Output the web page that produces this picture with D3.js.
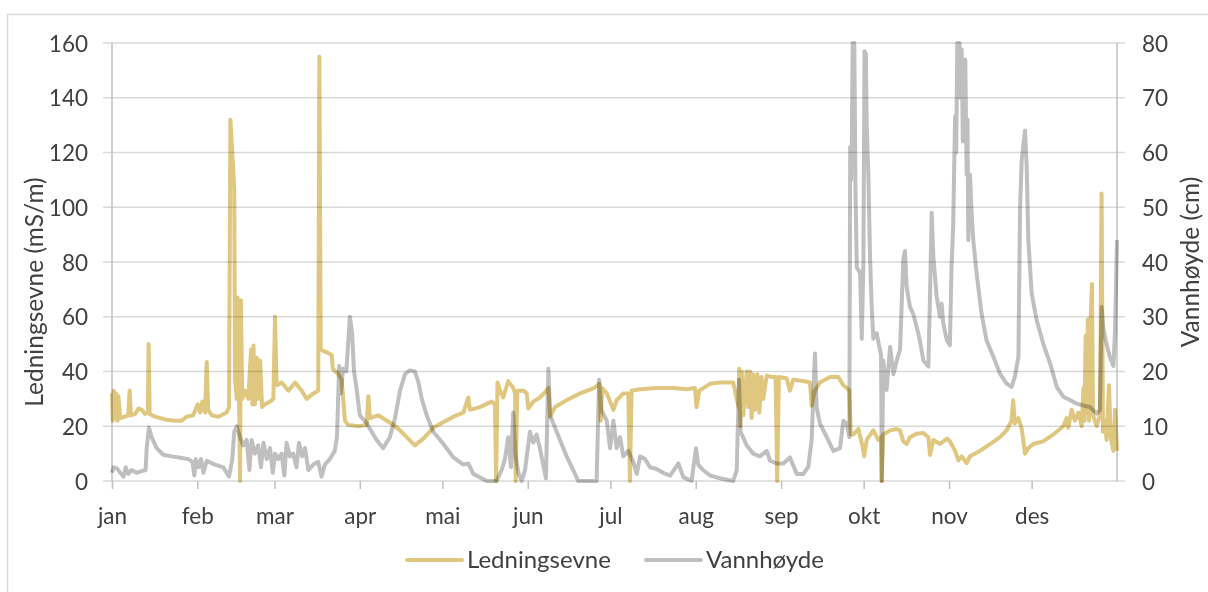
<!DOCTYPE html>
<html>
<head>
<meta charset="utf-8">
<script src="https://cdn.jsdelivr.net/npm/d3@7"></script>
<style>
  html, body { margin: 0; padding: 0; background: #fff; }
  svg { display: block; }
  text { font-family: Lato, "Open Sans", sans-serif; fill: #404040; }
</style>
</head>
<body>
<svg id="chart" width="1208" height="592"></svg>
<script>
// ---------- data ----------
const monthLabels = ["jan","feb","mar","apr","mai","jun","jul","aug","sep","okt","nov","des"];
const monthStartDays = [0,31,59,90,120,151,181,212,243,273,304,334];
const leftTicks = [0,20,40,60,80,100,120,140,160];
const rightTicks = [0,10,20,30,40,50,60,70,80];
const seriesNames = ["Ledningsevne","Vannhøyde"];

// Ledningsevne (mS/m): day of year, value
const condDays = [0,0.3,0.6,1,1.5,2,2.3,3,4.7,5.9,6.4,6.9,8.4,9.6,10.8,12,13,13.3,13.7,15.6,19.2,22.9,25.3,27.1,29.5,31.1,32,32.8,33.8,34.4,34.9,36.2,38.6,41.6,42.5,43,44.4,44.7,45.3,45.6,46.1,46.5,46.8,47.3,48.3,49.5,50.5,51,51.4,51.9,52.6,53.1,53.8,54.5,55.6,57.4,58.6,59.2,59.8,61.6,64.1,66.5,68.9,70.7,73.1,74.9,75.3,75.8,78,79.8,80.2,82.2,83.4,84.6,85.8,89.5,92.5,93.1,93.7,96.7,99.8,102.2,104.6,107,110,113.1,116.7,120.3,124,127.6,129.4,130,133.6,137.9,139.1,139.5,140,140.9,142.1,143.9,145.7,146.4,146.6,147.2,149.4,150.6,151.2,153,155.4,157.3,158.5,159.1,160.9,165.1,170,174.8,177,177.5,178,179.7,182.1,183.3,185.7,187.5,188.1,188.7,191.8,197.8,203.9,208.7,211.7,212.3,213.3,217.2,220.8,225.6,226.9,227.6,227.8,228.2,228.7,229.3,230.5,231.1,231.7,232.3,232.9,233.5,234.4,235.1,235.9,236.5,237.8,239.6,241,241.6,242.2,245,246.2,247.4,251.1,253.5,254.1,255.3,257.1,260.8,263.8,265.6,266.8,267.8,268.3,269.3,271.1,272.3,273.2,274.1,276.5,278.3,279.3,279.5,280.1,282.6,285,286.2,287.4,288.6,289.8,292.2,294.7,296.5,297.1,298.3,300.7,303.2,304.3,306.2,307.4,308.6,310.4,311.6,315.2,318.9,322.5,324.9,326.7,327.3,327.9,329.2,330.4,331.6,332.8,334.6,338.2,341.9,345.5,346.7,347.3,348.5,349.7,351,352.2,352.8,353.2,353.6,354,354.4,354.8,355.4,355.9,356.3,357.6,358.8,359.4,359.9,360.6,361.2,362.1,362.7,363.7,364.3,365];
const condVals = [32,22,33,23,32,22,31,23,23.5,24,33,24,24.5,26.5,26,24.5,25,50,24.5,23.5,22.5,22,22,23.5,24,28,25,29,25,43.5,26,24,23.5,25,27,132,107,37,30,67,33,0,66,30,33,30,48,28,49.5,28,45,30,44,27,28,29,30,60,35,36,33,36,33,30,32,33,155,48,47,46,41,39,37,22,20.5,20,20.5,31,23,24,22,20.5,18.5,16,13,15.5,19.5,21.5,23.5,25,30.5,26,27,29,28,0,36,33,30.5,36.5,34,32,0,33,33,32,26.5,29,30.5,32.5,34,23.5,27,29.5,32,33.8,35.5,22,34,32,26,29.5,32,32,0,33,33.5,34,34,33.5,34,27,33,35.5,36,36,30,27,41,20,40,24,40,27,40,23,39,26,39,25,38,30,38.5,38,38,0,38,37.5,33,37,36.5,36,27.5,33,36,38,38,35,34,33,17,17,19,14,9,15,18.5,15,16,0,17,18.5,19,18.5,14.5,13.5,16,17.3,17.5,16,9.5,15,13.5,15.5,14.5,11,7.5,9,6.5,9,11,13.5,16,18.5,22,29.5,21,23,19,10,12,13.5,14.5,17,20,23,19.5,26,22,25,20,34,22,53,25,59,22,58,72,24,20,24,105,18,22,15,35,16,11,26,11];

// Vannhøyde (cm): day of year, value
const levelDays = [0,0.6,1.8,3,4.2,5,5.9,7.1,8.9,10.7,12.2,12.6,13.4,14.4,16.2,18.6,21.7,25.3,27.7,29.2,29.9,30.4,31.4,32.3,33.2,34.4,37.4,40.4,42.5,43.7,44.4,45.3,46.5,47.7,48.9,49.9,50.7,51.9,53.1,54.1,55,56.2,57.4,58.4,59.2,60.4,61.6,62.6,63.4,64.6,65.8,67,67.9,69.1,70.1,71.3,73.1,74.9,76.1,77.3,79.1,80.9,81.7,82.5,83.1,83.9,85.1,86.4,87.2,87.9,88.8,90,92.5,96.1,98.5,100.9,102.8,104.6,106.4,108.2,110,111.3,112.5,114.3,116.7,120.3,124,127.6,129.4,131.2,136.1,139.7,141.5,142.7,143.9,144.9,145.7,146.6,147.6,148.8,150,151.8,153,154.2,155.4,156.6,157.6,158.5,159.1,160.3,162.7,165.1,167.5,169.3,176,176.9,177.7,179.7,180.9,182.1,183.3,184.5,185.7,187.5,189.3,190.6,191.8,193.6,195.4,197.8,200.2,202.7,205.7,207.5,210.5,212.1,212.9,214.7,217.2,220.8,225.6,226.9,227.7,228.3,230.5,232.9,235.3,237.8,239,241.4,243.8,246.2,248.7,251.1,252.9,254.1,255.3,255.9,257.1,259.6,262,264.4,265.6,266.8,267.8,268.1,268.4,268.7,269,269.3,269.6,270,270.5,271.7,272.3,272.9,273.3,273.8,274.1,274.7,275.3,275.9,276.5,277.7,279.3,279.6,280.1,281.3,282.6,283.8,285,286.2,287.4,288,288.6,289.8,291,292.2,293.4,294.7,296.5,297.1,297.7,298.3,299.5,300.7,301.3,301.9,303.2,304.3,304.9,305.5,306.2,306.6,307,307.4,307.8,308.2,308.6,309,309.4,309.9,310.4,310.7,311,311.6,312.2,312.8,314,315.8,317.6,320.1,322.5,324.9,326.7,327.9,329.2,329.8,330.4,331.6,332.2,332.8,334,335.8,338.2,340.7,343.1,345.5,347.9,350.4,352.8,355.2,357.6,358.8,359.4,360,361.2,362.4,363.7,364.3,365];
const levelVals = [1.5,2.5,2.3,1.5,0.8,2.5,1.3,2,1.5,1.8,2,6,9.8,8,6,4.8,4.5,4.2,4,3.5,1,4,2.5,4,1.5,3.7,3,2.5,0.8,4,9,10,8,6.5,7.5,2,7.5,5,6.5,2.5,7,4,6,1.5,5,4,5,1,7,4.5,5,2.5,7,4.5,6,2,3,3.5,0.8,3,4,5.5,8,21,16,20.5,20,30,27,20,17,12,10.5,7.5,6,8,11.5,16.5,19.5,20.2,20,18,15,12,9,6.8,4.3,3,3.2,1.3,0,0,2,4,8,2.5,12.5,4.5,1.5,0,2,9,7,8.5,6,3,0.5,20.5,12,10.5,7.5,4.5,2,0,0,18.5,13,11,6,11,6,8,4.5,5.5,3.5,1.3,4.5,4,2.5,2.2,1.5,1,3.2,0.7,0,6,3,2,1,0.5,0,2,18.5,9,6.5,5,4.5,5.5,3.7,3.2,3.2,4.3,1.3,1.3,2.6,7.5,23.3,13.5,10.5,8,5.5,6,11,10.5,8,61,55,62,80,66,80,54,39,38,26,40,78.5,78,65,56,41,32,26,27,23,0,22,16.6,24.5,19.5,22,24,40.5,42,35.5,31.8,30.5,28.2,25.7,22,20.9,34,49,41,33.7,30,32.4,28.8,25.7,24.8,39,46.5,66.6,60,80,70,80,72,78.8,62,68,77,56,66,44,56,49,44,38,30.6,25.7,22.7,19.6,17.8,17.2,19,22.7,50,58.7,64,57.4,44,34.3,29.4,25.1,21.5,17.2,15.4,14.8,14.1,13.8,13.5,12.3,13,31.8,28,25,22.7,21,27.6,44];

// ---------- chart ----------
const svg = d3.select("#chart");
const W = 1208, H = 592;
const plot = {left: 112, right: 1117, top: 43, bottom: 481};
const COL_COND = "#DFC77F", COL_LEVEL = "#BFBFBF", GRID = "#D9D9D9", AXIS = "#BFBFBF";
const LINE_W = 4;

svg.append("rect").attr("width", W).attr("height", H).attr("fill", "#fff");
svg.append("rect").attr("x", 7.5).attr("y", 14.5).attr("width", W + 20).attr("height", H + 20)
  .attr("fill", "none").attr("stroke", GRID).attr("stroke-width", 1.5);

const x = d3.scaleLinear().domain([0, 365]).range([plot.left, plot.right]);
const yL = d3.scaleLinear().domain([0, 160]).range([plot.bottom, plot.top]);
const yR = d3.scaleLinear().domain([0, 80]).range([plot.bottom, plot.top]);

// gridlines
svg.append("g").selectAll("line").data(leftTicks).join("line")
  .attr("x1", plot.left - 9).attr("x2", plot.right + 8)
  .attr("y1", d => yL(d)).attr("y2", d => yL(d))
  .attr("stroke", GRID).attr("stroke-width", 1.5);

// vertical axis lines
[plot.left, plot.right].forEach(px => {
  svg.append("line").attr("x1", px).attr("x2", px).attr("y1", plot.top).attr("y2", plot.bottom)
    .attr("stroke", AXIS).attr("stroke-width", 1.5);
});

// axes
const gL = svg.append("g").attr("transform", `translate(${plot.left},0)`)
  .call(d3.axisLeft(yL).tickValues(leftTicks).tickSize(0).tickPadding(24));
const gR = svg.append("g").attr("transform", `translate(${plot.right},0)`)
  .call(d3.axisRight(yR).tickValues(rightTicks).tickSize(0).tickPadding(25));
const gB = svg.append("g").attr("transform", `translate(0,${plot.bottom})`)
  .call(d3.axisBottom(x).tickValues(monthStartDays).tickFormat((d, i) => monthLabels[i]).tickSize(8).tickPadding(19));
[gL, gR, gB].forEach(g => {
  g.select(".domain").remove();
  g.selectAll("text").attr("font-size", 22.5).attr("font-family", "Lato, 'Open Sans', sans-serif").attr("fill", "#404040");
  g.selectAll(".tick line").attr("stroke", AXIS).attr("stroke-width", 1.5);
});
gL.selectAll("text").attr("dy", "0.36em");
gR.selectAll("text").attr("dy", "0.36em");

// lines
const condData = condDays.map((d, i) => [d, condVals[i]]);
const levelData = levelDays.map((d, i) => [d, levelVals[i]]);
const lineCond = d3.line().x(d => x(d[0])).y(d => yL(d[1]));
const lineLevel = d3.line().x(d => x(d[0])).y(d => yR(d[1]));

svg.append("path").datum(condData).attr("d", lineCond)
  .attr("fill", "none").attr("stroke", COL_COND).attr("stroke-width", LINE_W)
  .attr("stroke-linejoin", "round").style("mix-blend-mode", "multiply");
svg.append("path").datum(levelData).attr("d", lineLevel)
  .attr("fill", "none").attr("stroke", COL_LEVEL).attr("stroke-width", LINE_W)
  .attr("stroke-linejoin", "round").style("mix-blend-mode", "multiply");

// axis titles
svg.append("text").attr("transform", "translate(43,292) rotate(-90)")
  .attr("text-anchor", "middle").attr("font-size", 24.5).text("Ledningsevne (mS/m)");
svg.append("text").attr("transform", "translate(1199,262) rotate(-90)")
  .attr("text-anchor", "middle").attr("font-size", 24.5).text("Vannhøyde (cm)");

// legend
const legend = [
  {name: seriesNames[0], color: COL_COND, x: 407},
  {name: seriesNames[1], color: COL_LEVEL, x: 646}
];
const lg = svg.append("g");
legend.forEach(l => {
  lg.append("line").attr("x1", l.x).attr("x2", l.x + 55).attr("y1", 560).attr("y2", 560)
    .attr("stroke", l.color).attr("stroke-width", LINE_W).attr("stroke-linecap", "round");
  lg.append("text").attr("x", l.x + 60).attr("y", 568).attr("font-size", 24).text(l.name);
});
</script>
</body>
</html>
